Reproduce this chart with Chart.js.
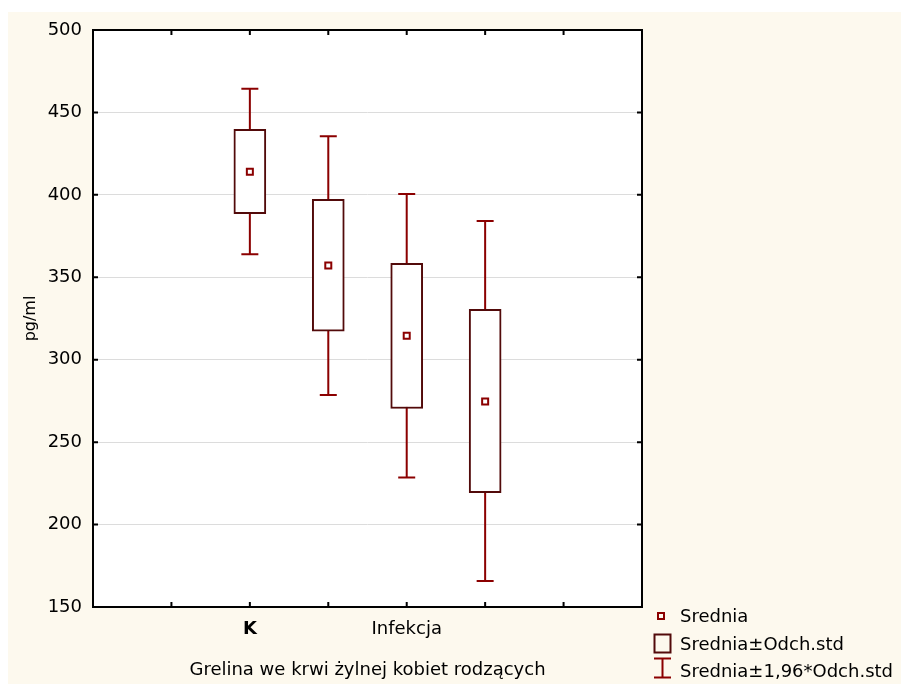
<!DOCTYPE html>
<html>
<head>
<meta charset="utf-8">
<script src="https://cdn.jsdelivr.net/npm/chart.js@4.4.1/dist/chart.umd.min.js"></script>
<style>
  html, body { margin: 0; padding: 0; background: #ffffff; }
  #wrap { width: 901px; height: 684px; position: relative; }
</style>
</head>
<body>
<div id="wrap"><canvas id="c" width="901" height="684"></canvas></div>
<script>
// ---- data ----
const xLabels = ['', '', 'K', '', 'Infekcja', '', '', ''];
const means        = [null, null, 414.0, 357.1, 314.6, 274.7, null, null];
const boxLow       = [null, null, 388.6, 317.3, 270.4, 219.3, null, null];
const boxHigh      = [null, null, 439.8, 397.3, 358.5, 330.6, null, null];
const whiskerLow   = [null, null, 363.9, 278.6, 228.6, 165.8, null, null];
const whiskerHigh  = [null, null, 464.3, 435.5, 400.5, 384.1, null, null];
const yMin = 150, yMax = 500, yStep = 50;
const xTitle = 'Grelina we krwi żylnej kobiet rodzących';
const yTitle = 'pg/ml';
const legendLabels = ['Srednia', 'Srednia±Odch.std', 'Srednia±1,96*Odch.std'];

const FONT = "'DejaVu Sans', 'Liberation Sans', Arial, sans-serif";
const CREAM = '#fdf9ee';
const BOX_COLOR = '#520a0a';
const WHISKER_COLOR = '#8b0000';
const MEAN_COLOR = '#8b0000';

const boxData = boxLow.map((lo, i) => (lo === null ? null : [lo, boxHigh[i]]));

const bgPlugin = {
  id: 'bg',
  beforeDraw(chart) {
    const ctx = chart.ctx, a = chart.chartArea;
    ctx.save();
    ctx.fillStyle = '#ffffff';
    ctx.fillRect(0, 0, chart.width, chart.height);
    ctx.fillStyle = CREAM;
    ctx.fillRect(8, 12, chart.width - 8, chart.height - 12);
    ctx.fillStyle = '#ffffff';
    ctx.fillRect(a.left, a.top, a.right - a.left, a.bottom - a.top);
    ctx.restore();
  }
};

const whiskerPlugin = {
  id: 'whiskers',
  beforeDatasetsDraw(chart) {
    const ctx = chart.ctx;
    const xs = chart.scales.x, ys = chart.scales.y;
    ctx.save();
    ctx.strokeStyle = WHISKER_COLOR;
    ctx.lineWidth = 2;
    whiskerLow.forEach((lo, i) => {
      if (lo === null) return;
      const x = xs.getPixelForValue(i);
      const y1 = ys.getPixelForValue(lo);
      const y2 = ys.getPixelForValue(whiskerHigh[i]);
      ctx.beginPath();
      ctx.moveTo(x, y1); ctx.lineTo(x, y2);
      ctx.moveTo(x - 8.5, y1); ctx.lineTo(x + 8.5, y1);
      ctx.moveTo(x - 8.5, y2); ctx.lineTo(x + 8.5, y2);
      ctx.stroke();
    });
    ctx.restore();
  }
};

const framePlugin = {
  id: 'frame',
  afterDraw(chart) {
    const ctx = chart.ctx, a = chart.chartArea;
    const xs = chart.scales.x, ys = chart.scales.y;
    ctx.save();
    ctx.strokeStyle = '#000000';
    ctx.lineWidth = 2;
    ctx.strokeRect(a.left, a.top, a.right - a.left, a.bottom - a.top);
    ctx.beginPath();
    ys.ticks.forEach(t => {
      const y = ys.getPixelForValue(t.value);
      ctx.moveTo(a.left, y); ctx.lineTo(a.left + 5, y);
      ctx.moveTo(a.right, y); ctx.lineTo(a.right - 5, y);
    });
    xLabels.forEach((l, i) => {
      const x = xs.getPixelForValue(i);
      ctx.moveTo(x, a.bottom); ctx.lineTo(x, a.bottom - 5);
      ctx.moveTo(x, a.top); ctx.lineTo(x, a.top + 5);
    });
    ctx.stroke();

    // legend
    ctx.font = '18px ' + FONT;
    ctx.fillStyle = '#000000';
    ctx.textBaseline = 'alphabetic';
    ctx.textAlign = 'left';
    const lx = 680;
    const baselines = [622, 650, 677];
    legendLabels.forEach((t, i) => ctx.fillText(t, lx, baselines[i]));
    // icon 1: mean marker
    ctx.strokeStyle = MEAN_COLOR;
    ctx.lineWidth = 2;
    ctx.strokeRect(658, 613, 6, 6);
    // icon 2: box
    ctx.strokeStyle = BOX_COLOR;
    ctx.strokeRect(654.5, 634.5, 16, 18);
    // icon 3: whisker
    ctx.strokeStyle = WHISKER_COLOR;
    ctx.beginPath();
    ctx.moveTo(662.5, 658.5); ctx.lineTo(662.5, 677.5);
    ctx.moveTo(654, 658.5); ctx.lineTo(671, 658.5);
    ctx.moveTo(654, 677.5); ctx.lineTo(671, 677.5);
    ctx.stroke();
    ctx.restore();
  }
};

new Chart(document.getElementById('c'), {
  type: 'bar',
  data: {
    labels: xLabels,
    datasets: [
      {
        type: 'bar',
        label: legendLabels[1],
        data: boxData,
        backgroundColor: '#ffffff',
        borderColor: BOX_COLOR,
        borderWidth: 2,
        borderSkipped: false,
        barThickness: 32,
        order: 2
      },
      {
        type: 'line',
        label: legendLabels[0],
        data: means,
        showLine: false,
        pointStyle: 'rect',
        pointRadius: 4.25,
        pointHoverRadius: 4.25,
        pointBackgroundColor: '#ffffff',
        pointBorderColor: MEAN_COLOR,
        pointBorderWidth: 2,
        order: 1
      }
    ]
  },
  options: {
    responsive: false,
    devicePixelRatio: 1,
    animation: false,
    layout: { padding: { left: 0, top: 30, right: 259, bottom: 0 } },
    plugins: { legend: { display: false }, tooltip: { enabled: false } },
    scales: {
      x: {
        type: 'category',
        offset: false,
        grid: { display: false, drawTicks: false },
        border: { display: false },
        ticks: {
          autoSkip: false,
          maxRotation: 0,
          padding: 12,
          color: '#000000',
          font: (c) => ({
            family: FONT,
            size: 18,
            weight: (c.tick && c.tick.label === 'K') ? 'bold' : 'normal'
          })
        },
        title: {
          display: true,
          text: xTitle,
          color: '#000000',
          font: { family: FONT, size: 18 },
          padding: { top: 0, bottom: 3 }
        },
        afterFit: (s) => { s.height = 77; }
      },
      y: {
        min: yMin,
        max: yMax,
        grid: { color: '#dcdcdc', lineWidth: 1, drawTicks: false },
        border: { display: false },
        ticks: {
          stepSize: yStep,
          padding: 11,
          color: '#000000',
          font: { family: FONT, size: 18 }
        },
        title: {
          display: true,
          text: yTitle,
          color: '#000000',
          font: { family: FONT, size: 16 },
          padding: { top: 21, bottom: 0 }
        },
        afterFit: (s) => { s.width = 93; }
      }
    }
  },
  plugins: [bgPlugin, whiskerPlugin, framePlugin]
});
</script>
</body>
</html>
